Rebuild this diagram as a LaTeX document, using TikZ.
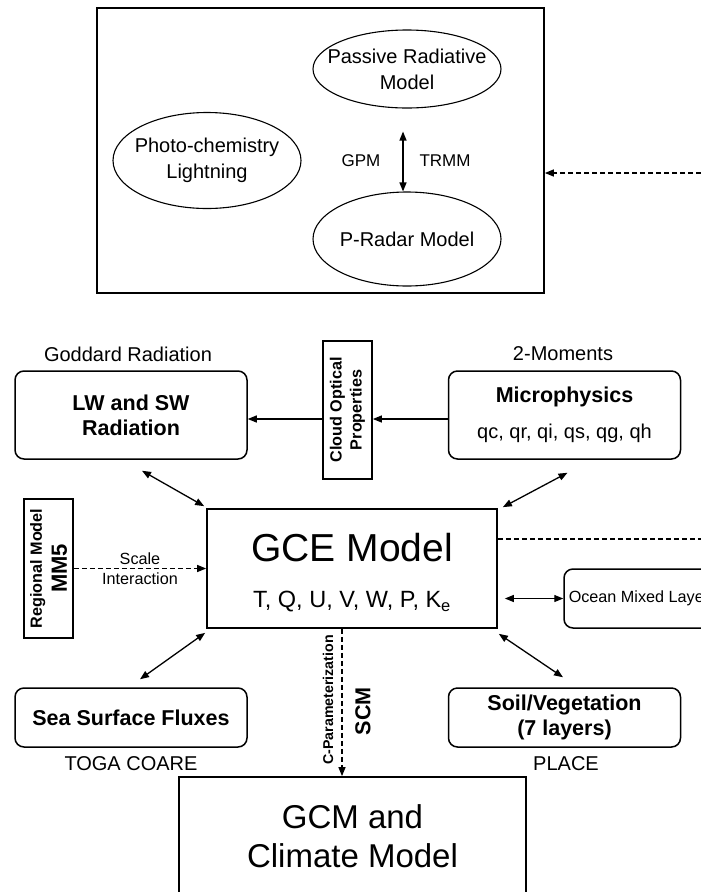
\documentclass[tikz,border=0pt]{standalone}
\usepackage{fontspec}
\setmainfont{Liberation Sans}
\usetikzlibrary{shapes.geometric,arrows.meta,calc}

\begin{document}
\begin{tikzpicture}[x=1pt, y=-1pt,
    every node/.style={inner sep=0pt, align=center},
    tip/.style={-{Triangle[length=9pt,width=7pt]}},
    both/.style={{Triangle[length=9pt,width=7pt]}-{Triangle[length=9pt,width=7pt]}},
    conn/.style={line width=1.3pt},
    dashline/.style={line width=1.3pt, dash pattern=on 5pt off 3pt},
    bubble/.style={ellipse, draw, line width=1.1pt, minimum width=188},
    frame/.style={rectangle, draw, line width=1.7pt},
    rbox/.style={rectangle, draw, rounded corners=9pt, line width=1.5pt,
                 minimum width=232, minimum height=88},
    regular/.style={font=\fontsize{20}{26}\selectfont},
    heavy/.style={font=\fontsize{21.5}{25}\selectfont\bfseries},
    small/.style={font=\fontsize{16.2}{20}\selectfont},
  ]
\useasboundingbox (0,0) rectangle (701,892);
\clip (0,0) rectangle (701,892);

% simulators
\node[frame, minimum width=447, minimum height=285] (sim) at (320.5,150.5) {};
\node[bubble, minimum height=78, label={[regular]center:Passive Radiative\\Model}] (passive) at (407,69) {};
\node[bubble, minimum height=96, label={[regular]center:Photo-chemistry\\Lightning}] (photo) at (207,160.5) {};
\node[bubble, minimum height=94, label={[regular]center:P-Radar Model}] (pradar) at (407,239) {};
\node[font=\fontsize{17}{20}\selectfont] (gpm) at (361,161) {GPM};
\node[font=\fontsize{17}{20}\selectfont] (trmm) at (445,161) {TRMM};
\draw[conn, both] ([xshift=-4pt,yshift=-23pt]passive.south) -- ([xshift=-4pt]pradar.north);
\coordinate (edgeA) at (701,173);
\draw[dashline, tip] (edgeA) -- (edgeA -| sim.east);

% physics packages
\node[regular] (goddard) at (128,354) {Goddard Radiation};
\node[rbox, heavy] (lw) at (131,415) {LW and SW\\Radiation};
\node[regular] (moments) at (563,354) {2-Moments};
\node[rbox, heavy] (micro) at (564.5,415) {Microphysics\\[11pt]{\fontsize{20}{24}\selectfont\mdseries qc, qr, qi, qs, qg, qh}};
\node[frame, rotate=90, minimum width=138, minimum height=49,
      font=\fontsize{16.2}{20}\selectfont\bfseries] (cloud) at (347.5,410) {Cloud Optical\\Properties};
\draw[conn, tip] ([yshift=-4pt]micro.west) -- ([yshift=-4pt]micro.west -| cloud.south);
\draw[conn, tip] ([yshift=-9pt]cloud.north) -- ([yshift=-9pt]cloud.north -| lw.east);

% cloud model
\node[frame, minimum width=290, minimum height=119, font=\fontsize{39}{46}\selectfont] (gce) at (352,568.5)
  {\raisebox{-4pt}[\height][\depth]{GCE Model}\\
   \raisebox{-4pt}[\height][\depth]{\fontsize{23.5}{28}\selectfont T, Q, U, V, W, P, K\textsubscript{e}}};
\node[frame, rotate=90, minimum width=139, minimum height=49,
      font=\fontsize{16.2}{25}\selectfont\bfseries] (regional) at (48.5,568.5) {Regional Model\\{\fontsize{22}{25}\selectfont MM5}};
\node[small] (scale) at (140,569) {Scale\\Interaction};
\draw[dashline, tip] (regional.south) -- (regional.south -| gce.west);
\node[rbox, small, minimum width=150, minimum height=59] (ocean) at (639,598.5) {Ocean Mixed Layer};
\draw[conn, both] ($(gce.east |- ocean.west)+(7,0)$) -- (ocean.west);
\coordinate (edgeB) at (701,539);
\draw[dashline] (gce.east |- edgeB) -- (edgeB);

\draw[conn, both] ([xshift=11pt,yshift=-11pt]lw.south) -- ([xshift=-2pt,yshift=2pt]gce.north west);
\draw[conn, both] ([xshift=3pt,yshift=-13pt]micro.south) -- ([xshift=5pt,yshift=1pt]gce.north east);

% surface
\node[rbox, heavy, minimum height=59] (sea) at (131,717.5) {Sea Surface Fluxes};
\node[rbox, heavy, minimum height=59] (soil) at (564.5,717.5) {Soil/Vegetation\\(7 layers)};
\node[regular] (toga) at (131,764) {TOGA COARE};
\node[regular] (place) at (566,764) {PLACE};
\draw[conn, both] ([xshift=-1pt,yshift=-4pt]gce.south west) -- ([xshift=9pt,yshift=8pt]sea.north);
\draw[conn, both] ([xshift=1pt,yshift=-5pt]gce.south east) -- ([xshift=-1.5pt,yshift=10pt]soil.north);

% climate model
\node[frame, minimum width=347, minimum height=118, font=\fontsize{33}{39}\selectfont] (gcm) at (352.5,836) {GCM and\\Climate Model};
\coordinate (scmtop) at ($(gce.south)+(-10,0)$);
\draw[dashline, tip] (scmtop) -- (scmtop |- gcm.north);
\node[rotate=90, font=\fontsize{14.2}{16}\selectfont\bfseries] (cparam) at (328,700) {C-Parameterization};
\node[rotate=90, font=\fontsize{21.6}{24}\selectfont\bfseries] (scm) at (363,711) {SCM};
\end{tikzpicture}
\end{document}
